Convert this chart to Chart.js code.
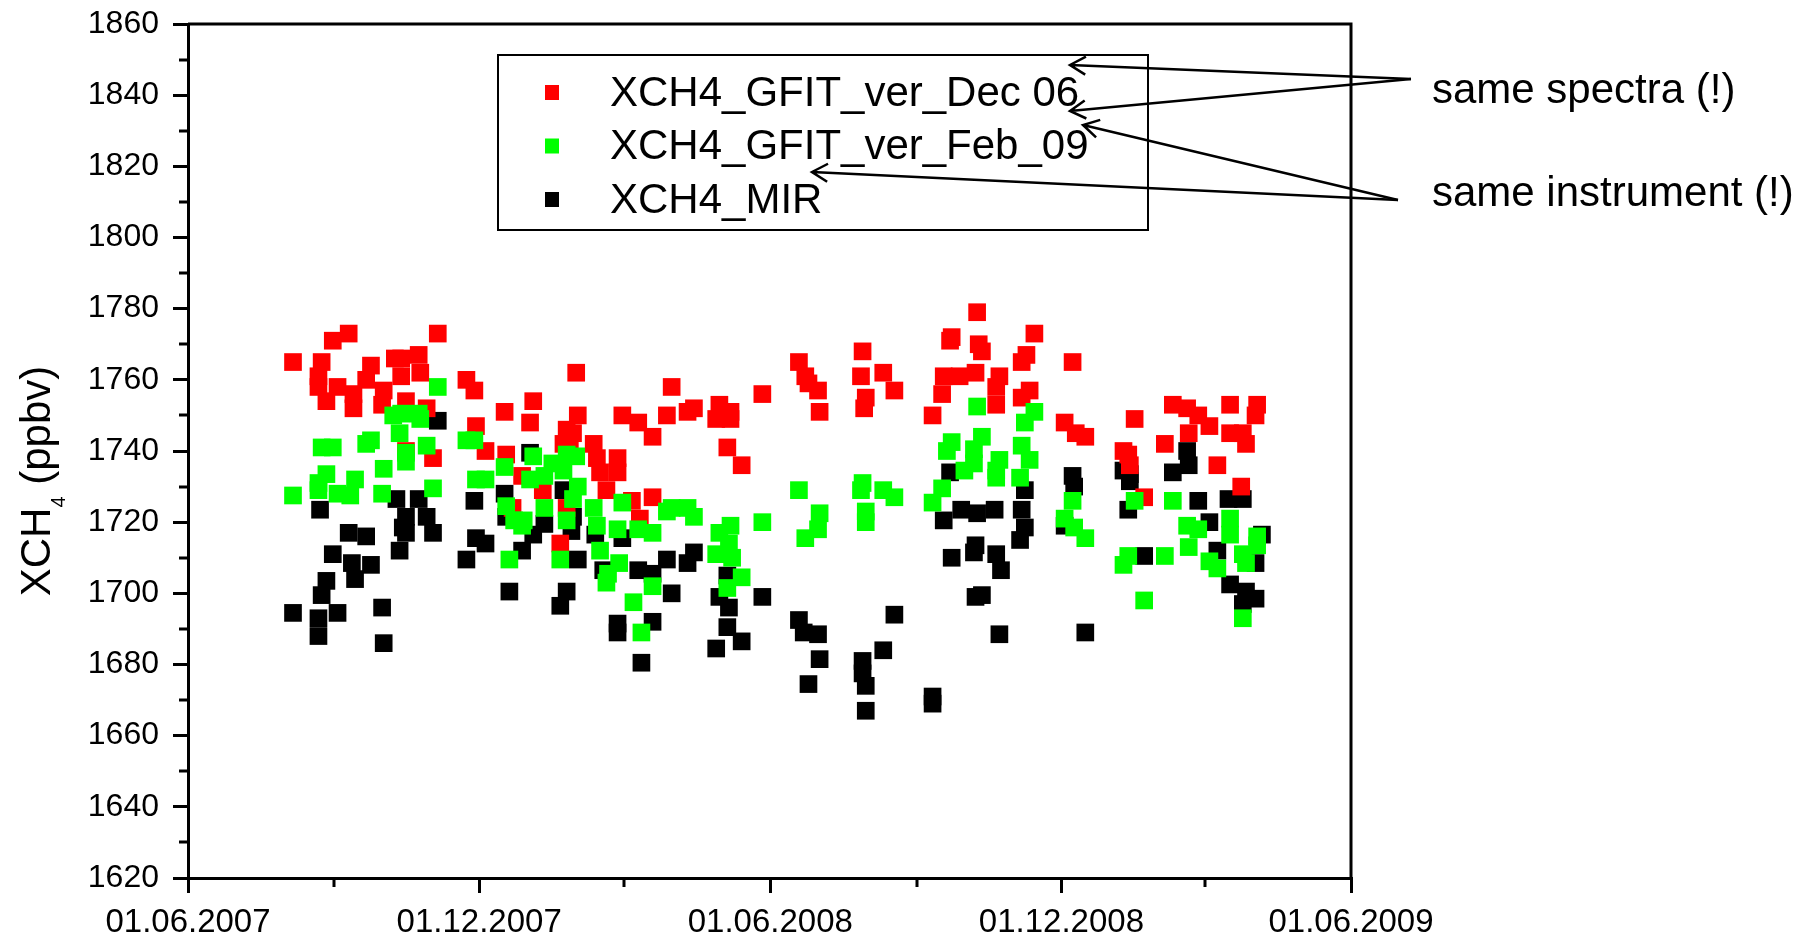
<!DOCTYPE html>
<html>
<head>
<meta charset="utf-8">
<title>XCH4 comparison</title>
<script src="https://cdn.jsdelivr.net/npm/chart.js@4.4.1/dist/chart.umd.min.js"></script>
<style>
  html, body { margin: 0; padding: 0; background: #fff; }
  #wrap { width: 1811px; height: 939px; }
</style>
</head>
<body>
<div id="wrap"><canvas id="chart"></canvas></div>
<script>
// x values are days since 01.06.2007
const startDate = '01.06.2007';
const tickDates = ['01.06.2007', '01.12.2007', '01.06.2008', '01.12.2008', '01.06.2009'];
const minorDates = ['01.09.2007', '01.03.2008', '01.09.2008', '01.03.2009'];

const seriesNames = ['XCH4_GFIT_ver_Dec 06', 'XCH4_GFIT_ver_Feb_09', 'XCH4_MIR'];
const seriesColors = ['#ff0000', '#00ff00', '#000000'];

const dec06Days = [66,82,82,84,87,91,94,101,104,104,112,115,122,123,130,134,134,137,137,145,146,150,154,157,
  175,180,181,187,199,200,204,210,215,217,223,234,236,238,238,240,242,244,245,255,257,259,263,270,270,273,
  279,283,284,292,292,301,304,314,318,332,334,339,341,341,348,361,384,388,390,396,397,423,424,425,426,437,
  444,468,474,475,479,480,485,495,496,497,499,508,508,510,524,524,527,529,532,551,556,558,564,588,591,592,
  595,601,614,619,628,629,635,642,647,655,655,662,663,665,671,672];
const dec06Xch4 = [1765,1761,1758,1765,1754,1771,1758,1773,1756,1752,1760,1764,1753,1757,1766,1766,1761,1754,1740,1767,1762,1752,1738,1773,
  1760,1757,1747,1740,1751,1739,1724,1733,1748,1754,1729,1714,1742,1746,1724,1743,1745,1762,1750,1742,1738,1734,1729,1738,1734,1750,
  1726,1748,1721,1744,1727,1750,1758,1751,1752,1749,1753,1741,1751,1749,1736,1756,1765,1761,1759,1757,1751,1761,1768,1752,1755,1762,
  1757,1750,1756,1761,1771,1772,1761,1762,1779,1770,1768,1758,1753,1761,1765,1755,1767,1757,1773,1748,1765,1745,1744,1740,1739,1736,
  1749,1727,1742,1753,1752,1745,1750,1747,1736,1753,1745,1730,1745,1742,1750,1753];

const feb09Days = [66,82,82,84,87,91,94,102,105,112,115,122,123,129,133,134,137,137,145,146,150,154,157,
  175,180,181,187,199,200,202,205,210,211,215,217,224,224,229,234,236,238,238,242,244,245,255,257,259,263,264,
  270,271,273,280,283,285,292,292,301,304,314,318,332,334,339,340,341,342,348,361,384,388,396,397,423,424,426,426,
  437,444,468,474,477,480,488,494,494,496,499,508,508,510,523,524,526,529,532,551,556,557,564,588,591,595,601,
  614,619,628,629,635,642,647,655,655,663,663,665,672,672];
const feb09Xch4 = [1727.5,1731,1729,1741,1733.5,1741,1728,1727.5,1732,1742,1743,1728,1735,1750,1745,1750.5,1739.5,1737,1750.5,1749,1741.5,1729.5,1758,
  1743,1743,1732,1732,1735.5,1724.5,1709.5,1720.5,1719,1720.5,1732,1738.5,1733,1724,1736.5,1709.5,1734.5,1739,1720.5,1726.5,1738.5,1730,1724,1719,1712,1703,1705.5,
  1718,1708.5,1725.5,1697.5,1718,1689,1717,1702,1723,1724,1724,1721.5,1711,1717,1701.5,1714,1719,1710,1704.5,1720,1729,1715.5,1718,1722.5,1729,1731,1723,1720,
  1729,1727,1725.5,1729.5,1740,1742.5,1734.5,1736.5,1740.5,1752.5,1744,1734.5,1732.5,1737.5,1732.5,1741.5,1748,1737.5,1751,1721,1726,1718.5,1715.5,1708,1710.5,1726,1698,
  1710.5,1726,1719,1713,1718,1709,1707,1721,1716.5,1711,1693,1708.5,1716,1713.5];

const mirDays = [66,83,82,82,84,87,91,94,101,103,105,112,115,122,123,131,133,135,137,137,145,150,154,157,
  175,180,181,187,199,200,202,210,215,217,224,234,236,238,241,242,245,256,261,270,270,273,283,285,292,292,
  301,304,314,318,332,334,339,339,340,348,361,384,387,390,396,397,424,424,426,426,437,444,468,468,
  475,479,480,486,494,495,495,496,499,507,508,510,511,523,524,526,526,551,556,557,564,588,591,592,592,601,
  619,628,629,635,642,647,654,655,663,663,665,671,671,675];
const mirXch4 = [1694.5,1723.5,1693,1688,1699.5,1703.5,1711,1694.5,1717,1708.5,1704,1716,1708,1696,1686,1726.5,1712,1718.5,1721.5,1717,1726.5,1721.5,1717,1748.5,
  1709.5,1726,1715.5,1714,1728,1721.5,1700.5,1712,1739.5,1716.5,1719.5,1696.5,1729,1700.5,1717.5,1721.5,1709.5,1716.5,1706.5,1691.5,1689,1715.5,1706.5,1680.5,1705.5,1692,
  1709.5,1700,1708.5,1711.5,1684.5,1699,1705,1690.5,1696,1686.5,1699,1692.5,1689,1674.5,1688.5,1681.5,1681,1677.5,1674,1667,1684,1694,1671,1669,
  1720.5,1734,1710,1723.5,1711.5,1713.5,1699,1722.5,1699.5,1723.5,1711,1688.5,1706.5,1715,1723.5,1718.5,1729,1719,1733,1730,1689,1734.5,1723.5,1733.5,1731.5,1710.5,
  1734,1740,1736,1726,1720,1712,1726.5,1702.5,1726.5,1697,1700.5,1698.5,1708.5,1716.5];

const yMin = 1620, yMax = 1860, yStep = 20;
const annotations = ['same spectra (!)', 'same instrument (!)'];

function dayOf(s) {
  const [d, m, y] = s.split('.').map(Number);
  const [d0, m0, y0] = startDate.split('.').map(Number);
  return Math.round((Date.UTC(y, m - 1, d) - Date.UTC(y0, m0 - 1, d0)) / 86400000);
}

function toPoints(days, vals) {
  return days.map((d, i) => ({ x: d, y: vals[i] }));
}

const FONT = "'Liberation Sans', Arial, sans-serif";
const BLACK = '#000';

// frame lines on top/right, minor ticks, legend box, y title, arrows and notes
const decorations = {
  id: 'decorations',
  afterDraw(chart) {
    const { ctx, chartArea: a, scales } = chart;
    const x = scales.x, y = scales.y;
    ctx.save();
    ctx.strokeStyle = BLACK;
    ctx.fillStyle = BLACK;

    // top and right frame
    ctx.lineWidth = 3;
    ctx.beginPath();
    ctx.moveTo(a.left, a.top);
    ctx.lineTo(a.right, a.top);
    ctx.lineTo(a.right, a.bottom);
    ctx.stroke();

    // minor ticks
    ctx.lineWidth = 3;
    ctx.beginPath();
    for (let v = yMin + yStep / 2; v < yMax; v += yStep) {
      const py = Math.round(y.getPixelForValue(v));
      ctx.moveTo(a.left - 9, py);
      ctx.lineTo(a.left, py);
    }
    minorDates.forEach(s => {
      const px = Math.round(x.getPixelForValue(dayOf(s)));
      ctx.moveTo(px, a.bottom);
      ctx.lineTo(px, a.bottom + 9);
    });
    ctx.stroke();

    // legend
    const lx = a.left + 310, ly = a.top + 31, lw = 650, lh = 175;
    ctx.lineWidth = 2;
    ctx.strokeRect(lx, ly, lw, lh);
    ctx.font = '42px ' + FONT;
    ctx.textBaseline = 'middle';
    ctx.textAlign = 'left';
    chart.data.datasets.forEach((ds, i) => {
      const cy = ly + 37 + i * 53.5;
      ctx.fillStyle = ds.backgroundColor;
      ctx.fillRect(lx + 47, cy - 7, 14, 15);
      ctx.fillStyle = BLACK;
      ctx.fillText(ds.label, lx + 112, cy + 2);
    });

    // y axis title with subscript
    ctx.save();
    ctx.translate(50, 481);
    ctx.rotate(-Math.PI / 2);
    ctx.textBaseline = 'alphabetic';
    ctx.font = '42px ' + FONT;
    const w1 = ctx.measureText('XCH').width;
    ctx.font = '20px ' + FONT;
    const w2 = ctx.measureText('4').width;
    ctx.font = '42px ' + FONT;
    const w3 = ctx.measureText(' (ppbv)').width;
    let tx = -(w1 + w2 + w3) / 2;
    ctx.fillText('XCH', tx, 0);
    tx += w1;
    ctx.font = '20px ' + FONT;
    ctx.fillText('4', tx, 15);
    tx += w2;
    ctx.font = '42px ' + FONT;
    ctx.fillText(' (ppbv)', tx, 0);
    ctx.restore();

    // arrows
    const arrow = (x1, y1, x2, y2) => {
      const ang = Math.atan2(y1 - y2, x1 - x2);
      const h = 18, spread = Math.PI / 6;
      ctx.beginPath();
      ctx.moveTo(x1, y1);
      ctx.lineTo(x2, y2);
      ctx.moveTo(x2 + h * Math.cos(ang + spread), y2 + h * Math.sin(ang + spread));
      ctx.lineTo(x2, y2);
      ctx.lineTo(x2 + h * Math.cos(ang - spread), y2 + h * Math.sin(ang - spread));
      ctx.stroke();
    };
    ctx.lineWidth = 2.5;
    arrow(1411, 79, 1070, 65);
    arrow(1411, 79, 1070, 111);
    arrow(1398, 200, 1083, 125);
    arrow(1398, 200, 812, 172);

    ctx.fillStyle = BLACK;
    ctx.font = '42px ' + FONT;
    ctx.textBaseline = 'middle';
    ctx.fillText(annotations[0], 1432, 91);
    ctx.fillText(annotations[1], 1432, 194);
    ctx.restore();
  }
};

const datasets = [
  { label: seriesNames[0], data: toPoints(dec06Days, dec06Xch4), order: 2 },
  { label: seriesNames[1], data: toPoints(feb09Days, feb09Xch4), order: 1 },
  { label: seriesNames[2], data: toPoints(mirDays, mirXch4), order: 3 }
].map((ds, i) => Object.assign(ds, {
  backgroundColor: seriesColors[i],
  borderWidth: 0,
  pointStyle: 'rect',
  pointRadius: 12.5,
  pointHoverRadius: 12.5
}));

new Chart(document.getElementById('chart'), {
  type: 'scatter',
  data: { datasets },
  options: {
    responsive: true,
    maintainAspectRatio: false,
    animation: false,
    events: [],
    layout: { padding: { top: 24, right: 460, bottom: 0, left: 0 } },
    plugins: { legend: { display: false }, tooltip: { enabled: false } },
    scales: {
      x: {
        type: 'linear',
        min: dayOf(tickDates[0]),
        max: dayOf(tickDates[tickDates.length - 1]),
        afterFit: s => { s.height = 61; },
        afterBuildTicks: s => { s.ticks = tickDates.map(t => ({ value: dayOf(t) })); },
        ticks: {
          autoSkip: false,
          maxRotation: 0,
          color: BLACK,
          padding: 10,
          font: { family: FONT, size: 33 },
          callback: v => tickDates.find(t => dayOf(t) === v) || ''
        },
        grid: { drawOnChartArea: false, drawTicks: true, tickLength: 15, color: BLACK, lineWidth: 3 },
        border: { display: true, color: BLACK, width: 3 }
      },
      y: {
        min: yMin,
        max: yMax,
        // keep the plot top pinned to the layout padding
        afterFit: s => { s.width = 188; s.paddingTop = 0; s.paddingBottom = 0; },
        ticks: {
          stepSize: yStep,
          color: BLACK,
          padding: 14,
          font: { family: FONT, size: 32 },
          callback: v => String(v)
        },
        grid: { drawOnChartArea: false, drawTicks: true, tickLength: 15, color: BLACK, lineWidth: 3 },
        border: { display: true, color: BLACK, width: 3 }
      }
    }
  },
  plugins: [decorations]
});
</script>
</body>
</html>
